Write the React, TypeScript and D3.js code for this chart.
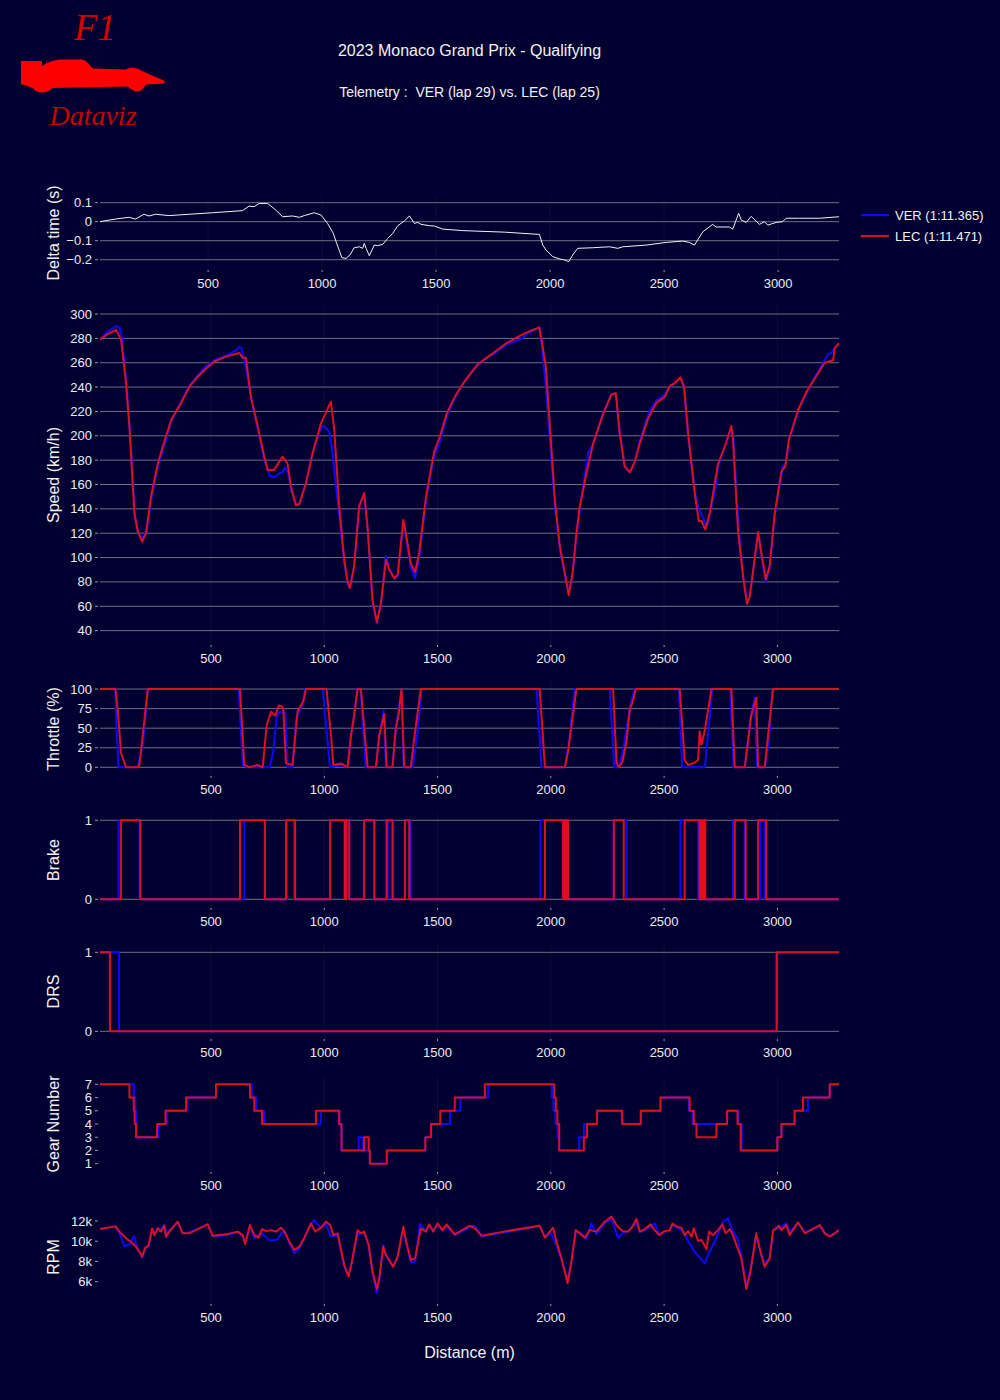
import React, { useEffect } from "react";
import * as d3 from "d3";

type Pt = [number, number];

const BG = "#010030";
const VER_COLOR = "#0a0aff";
const LEC_COLOR = "#dc0f23";
const FONT = "'Liberation Sans', Arial, sans-serif";

const DIST_TICKS = [500, 1000, 1500, 2000, 2500, 3000];

// delta time (s) between the two laps, by distance (m)
const deltaTime: Pt[] = [
  [26, 0], [94, 0.014], [153, 0.023], [182, 0.014], [219, 0.039], [241, 0.03], [270, 0.039], [329, 0.032],
  [417, 0.039], [519, 0.047], [651, 0.058], [680, 0.082], [702, 0.079], [724, 0.096], [761, 0.096],
  [797, 0.061], [827, 0.026], [870, 0.03], [900, 0.023], [922, 0.032], [966, 0.047], [995, 0.035],
  [1024, -0.009], [1049, -0.061], [1064, -0.114], [1087, -0.189], [1105, -0.193], [1122, -0.175],
  [1141, -0.137], [1163, -0.132], [1178, -0.14], [1185, -0.114], [1193, -0.14], [1207, -0.179],
  [1229, -0.123], [1244, -0.126], [1266, -0.119], [1288, -0.088], [1310, -0.061], [1332, -0.021],
  [1361, 0.004], [1383, 0.03], [1405, -0.009], [1420, -0.004], [1434, -0.014], [1471, -0.021],
  [1493, -0.023], [1529, -0.039], [1617, -0.047], [1800, -0.055], [1953, -0.067], [1968, -0.123],
  [1982, -0.149], [2012, -0.184], [2041, -0.196], [2060, -0.2], [2082, -0.21], [2099, -0.175],
  [2121, -0.14], [2187, -0.137], [2260, -0.132], [2297, -0.14], [2319, -0.132], [2421, -0.123],
  [2509, -0.109], [2582, -0.102], [2611, -0.109], [2633, -0.123], [2670, -0.053], [2713, -0.014],
  [2728, -0.028], [2787, -0.028], [2801, -0.039], [2827, 0.044], [2838, 0.009], [2860, -0.004],
  [2882, 0.028], [2918, -0.014], [2940, 0], [2955, -0.018], [2991, -0.004], [3020, 0], [3035, 0.018],
  [3094, 0.018], [3181, 0.018], [3267, 0.026],
];

const lecSpeed: Pt[] = [
  [10, 279], [40, 283], [81, 287], [103, 279], [125, 243], [140, 207], [162, 136], [176, 122], [196, 113],
  [213, 120], [235, 150], [265, 177], [287, 191], [324, 213], [368, 227], [404, 240], [434, 247], [471, 254],
  [515, 261], [566, 265], [625, 268], [640, 264], [654, 264], [676, 232], [713, 202], [735, 183], [750, 172],
  [779, 172], [816, 183], [838, 177], [853, 158], [875, 143], [890, 144], [919, 161], [949, 186], [985, 210],
  [1029, 228], [1044, 205], [1066, 142], [1088, 98], [1103, 80], [1113, 75], [1132, 93], [1154, 142],
  [1176, 153], [1191, 125], [1213, 65], [1232, 47], [1250, 62], [1272, 98], [1287, 90], [1309, 83],
  [1324, 86], [1349, 131], [1360, 120], [1382, 95], [1401, 88], [1419, 104], [1449, 150], [1485, 187],
  [1510, 199], [1540, 218], [1576, 232], [1613, 243], [1657, 254], [1679, 259], [1716, 264], [1746, 268],
  [1804, 276], [1863, 282], [1907, 286], [1949, 289], [1959, 279], [1978, 257], [1996, 208], [2018, 147],
  [2040, 109], [2062, 87], [2079, 69], [2096, 87], [2113, 120], [2128, 142], [2157, 169], [2187, 194],
  [2231, 218], [2268, 234], [2287, 235], [2304, 202], [2326, 175], [2349, 170], [2371, 179], [2393, 194],
  [2429, 214], [2466, 227], [2503, 232], [2525, 241], [2547, 243], [2572, 248], [2588, 240], [2606, 202],
  [2635, 153], [2653, 130], [2665, 130], [2682, 123], [2701, 136], [2738, 177], [2768, 191], [2797, 208],
  [2804, 197], [2826, 123], [2849, 84], [2866, 62], [2878, 68], [2915, 121], [2929, 104], [2949, 82],
  [2966, 93], [2988, 136], [3018, 171], [3035, 175], [3051, 197], [3091, 221], [3128, 236], [3165, 247],
  [3209, 260], [3246, 262], [3253, 272], [3272, 276],
];

const verSpeed: Pt[] = [
  [10, 279], [40, 285], [81, 290], [97, 289], [108, 278], [128, 240], [142, 205], [164, 135], [178, 121],
  [198, 116], [215, 121], [237, 148], [265, 175], [290, 190], [301, 196], [324, 212], [368, 228], [404, 241],
  [434, 248], [471, 256], [515, 262], [566, 266], [610, 270], [625, 273], [635, 272], [645, 262], [660, 250],
  [680, 228], [713, 200], [735, 180], [760, 167], [779, 166], [800, 169], [816, 170], [826, 174], [840, 170],
  [855, 155], [875, 143], [890, 144], [919, 161], [949, 186], [985, 207], [1000, 208], [1022, 203],
  [1035, 188], [1050, 161], [1066, 135], [1088, 96], [1103, 79], [1113, 75], [1132, 93], [1154, 142],
  [1176, 152], [1191, 124], [1213, 64], [1232, 46], [1250, 62], [1272, 101], [1287, 91], [1309, 83],
  [1324, 85], [1349, 128], [1360, 118], [1382, 92], [1401, 83], [1419, 100], [1449, 147], [1485, 184],
  [1510, 194], [1540, 216], [1576, 231], [1613, 243], [1657, 254], [1679, 258], [1716, 264], [1746, 267],
  [1804, 275], [1863, 279], [1907, 285], [1949, 289], [1959, 276], [1978, 240], [1996, 197], [2018, 142],
  [2040, 107], [2062, 86], [2079, 70], [2096, 86], [2113, 118], [2128, 140], [2165, 186], [2187, 193],
  [2231, 219], [2268, 234], [2287, 235], [2304, 203], [2326, 175], [2349, 170], [2371, 179], [2393, 196],
  [2437, 221], [2466, 229], [2503, 234], [2525, 240], [2547, 244], [2572, 248], [2588, 240], [2606, 200],
  [2635, 155], [2653, 140], [2672, 133], [2687, 125], [2701, 135], [2728, 158], [2738, 175], [2768, 191],
  [2797, 206], [2806, 198], [2824, 139], [2835, 110], [2849, 85], [2866, 63], [2878, 68], [2915, 120],
  [2929, 102], [2949, 80], [2966, 92], [2988, 134], [3025, 176], [3040, 178], [3051, 196], [3091, 220],
  [3128, 235], [3165, 248], [3209, 262], [3224, 267], [3238, 268], [3253, 272], [3272, 276],
];

const lecThrottle: Pt[] = [
  [10, 100], [78, 100], [88, 75], [103, 18], [125, 0], [176, 0], [184, 3], [221, 100], [628, 100], [647, 3],
  [669, 0], [706, 3], [728, 0], [746, 54], [765, 71], [784, 66], [799, 79], [812, 78], [819, 75], [831, 5],
  [860, 3], [882, 71], [907, 84], [919, 100], [1010, 100], [1030, 40], [1040, 3], [1074, 5], [1103, 0],
  [1118, 41], [1132, 67], [1147, 100], [1162, 100], [1191, 0], [1228, 0], [1243, 41], [1265, 68], [1275, 0],
  [1301, 0], [1316, 50], [1328, 67], [1341, 100], [1353, 0], [1382, 0], [1397, 37], [1426, 100], [1951, 100],
  [1974, 0], [2062, 0], [2076, 20], [2113, 100], [2275, 100], [2290, 5], [2301, 0], [2316, 7], [2334, 33],
  [2349, 75], [2360, 82], [2375, 100], [2569, 100], [2591, 9], [2606, 3], [2635, 6], [2650, 9], [2657, 46],
  [2665, 29], [2679, 46], [2709, 100], [2797, 100], [2812, 0], [2856, 0], [2885, 67], [2907, 89], [2915, 0],
  [2944, 0], [2959, 41], [2981, 100], [3272, 100],
];

const verThrottle: Pt[] = [
  [10, 100], [78, 100], [83, 50], [92, 0], [176, 0], [200, 30], [221, 100], [622, 100], [640, 3], [660, 0],
  [760, 0], [775, 20], [790, 65], [800, 70], [828, 70], [838, 0], [860, 0], [875, 60], [907, 84], [915, 100],
  [993, 100], [1025, 0], [1074, 3], [1103, 0], [1118, 41], [1132, 67], [1145, 100], [1160, 100], [1182, 0],
  [1228, 0], [1243, 41], [1262, 72], [1272, 0], [1301, 0], [1316, 50], [1341, 100], [1350, 0], [1390, 0],
  [1410, 40], [1430, 100], [1937, 100], [1959, 0], [2062, 0], [2080, 30], [2105, 100], [2260, 100],
  [2280, 0], [2301, 0], [2318, 20], [2340, 60], [2355, 85], [2370, 100], [2565, 100], [2580, 0], [2680, 0],
  [2700, 60], [2712, 100], [2792, 100], [2806, 0], [2856, 0], [2880, 60], [2900, 89], [2910, 0], [2944, 0],
  [2962, 30], [2978, 100], [3272, 100],
];

const lecBrake: Pt[] = [
  [10, 0], [103, 1], [188, 0], [628, 1], [738, 0], [831, 1], [871, 0], [1026, 1], [1090, 0], [1097, 1],
  [1110, 0], [1176, 1], [1221, 0], [1275, 1], [1301, 0], [1356, 1], [1375, 0], [1974, 1], [2054, 0],
  [2060, 1], [2066, 0], [2070, 1], [2076, 0], [2278, 1], [2322, 0], [2591, 1], [2657, 0], [2662, 1],
  [2668, 0], [2674, 1], [2682, 0], [2812, 1], [2860, 0], [2915, 1], [2951, 0], [3272, 0],
];

const verBrake: Pt[] = [
  [10, 0], [92, 1], [185, 0], [647, 1], [738, 0], [835, 1], [866, 0], [1026, 1], [1093, 0], [1100, 1],
  [1110, 0], [1176, 1], [1221, 0], [1280, 1], [1304, 0], [1356, 1], [1380, 0], [1954, 1], [2069, 0],
  [2278, 1], [2334, 0], [2572, 1], [2650, 0], [2655, 1], [2662, 0], [2804, 1], [2856, 0], [2925, 1],
  [2944, 0], [3272, 0],
];

const lecDrs: Pt[] = [[10, 1], [54, 0], [2997, 1], [3272, 1]];
const verDrs: Pt[] = [[10, 1], [94, 0], [2997, 1], [3272, 1]];

const lecGear: Pt[] = [
  [10, 7], [140, 6], [159, 5], [163, 4], [169, 3], [262, 4], [299, 5], [390, 6], [522, 7], [672, 6],
  [691, 5], [725, 4], [963, 5], [1066, 4], [1076, 2], [1176, 3], [1196, 2], [1201, 1], [1276, 2],
  [1446, 3], [1471, 4], [1512, 5], [1576, 6], [1709, 7], [2015, 6], [2022, 5], [2029, 4], [2037, 2],
  [2146, 3], [2160, 4], [2204, 5], [2315, 4], [2397, 5], [2484, 6], [2613, 5], [2631, 4], [2643, 3],
  [2731, 4], [2778, 5], [2824, 4], [2838, 2], [3000, 3], [3018, 4], [3076, 5], [3113, 6], [3231, 7],
  [3272, 7],
];

const verGear: Pt[] = [
  [10, 7], [159, 6], [166, 5], [170, 4], [172, 3], [268, 4], [305, 5], [396, 6], [522, 7], [680, 6],
  [700, 5], [735, 4], [985, 5], [1066, 4], [1076, 2], [1152, 3], [1170, 2], [1201, 1], [1276, 2],
  [1446, 3], [1471, 4], [1555, 5], [1601, 6], [1724, 7], [2005, 6], [2012, 5], [2020, 4], [2029, 3],
  [2037, 2], [2125, 3], [2146, 4], [2204, 5], [2315, 4], [2397, 5], [2484, 6], [2610, 5], [2625, 4],
  [2778, 5], [2828, 4], [2842, 2], [3000, 3], [3018, 4], [3076, 5], [3135, 6], [3231, 7], [3272, 7],
];

const lecRpm: Pt[] = [
  [10, 11200], [78, 11470], [96, 10950], [125, 10300], [154, 9800], [169, 9460], [184, 8970], [196, 8470],
  [210, 9360], [225, 9600], [240, 11270], [250, 10600], [265, 11270], [279, 10950], [294, 11540],
  [301, 10450], [316, 10950], [353, 11930], [375, 10780], [404, 10780], [449, 11270], [485, 11670],
  [507, 10550], [566, 10680], [618, 10950], [640, 10600], [651, 9700], [672, 11600], [691, 10600],
  [710, 10350], [725, 11200], [743, 11000], [765, 11100], [787, 10950], [809, 11340], [824, 11000],
  [846, 9960], [868, 9130], [890, 9460], [912, 10350], [941, 11770], [960, 10950], [985, 11340],
  [1007, 11930], [1026, 11600], [1040, 10600], [1059, 10780], [1088, 7650], [1107, 6500], [1122, 7980],
  [1147, 11100], [1162, 10780], [1176, 10950], [1196, 9630], [1213, 7000], [1232, 5270], [1243, 6330],
  [1260, 9460], [1272, 8640], [1287, 8140], [1304, 7480], [1324, 8470], [1349, 11440], [1360, 10120],
  [1382, 8140], [1401, 8300], [1426, 11270], [1449, 10950], [1463, 11670], [1481, 10950], [1500, 11770],
  [1522, 11100], [1540, 11670], [1576, 10680], [1643, 11540], [1665, 11270], [1694, 10550], [1804, 11000],
  [1951, 11540], [1974, 10350], [2010, 11340], [2025, 9960], [2047, 8300], [2074, 5830], [2091, 7980],
  [2110, 11100], [2128, 10780], [2150, 10350], [2172, 11100], [2201, 10950], [2238, 11930], [2268, 12430],
  [2290, 11600], [2316, 11000], [2341, 10950], [2360, 11440], [2378, 12200], [2393, 10950], [2415, 11200],
  [2440, 11670], [2459, 11100], [2478, 10600], [2503, 11000], [2525, 11100], [2537, 11740], [2557, 11440],
  [2576, 11340], [2591, 10600], [2606, 11000], [2621, 10450], [2631, 11270], [2650, 10020], [2665, 10120],
  [2687, 9230], [2699, 10950], [2716, 10600], [2738, 11100], [2757, 11670], [2772, 10780], [2790, 11200],
  [2804, 10600], [2819, 9630], [2841, 8300], [2863, 5270], [2881, 7000], [2907, 10780], [2925, 8970],
  [2944, 7480], [2966, 8300], [2981, 11100], [2996, 11270], [3007, 11540], [3018, 11100], [3040, 11600],
  [3054, 10600], [3091, 11870], [3121, 10780], [3187, 11600], [3209, 10780], [3231, 10450], [3253, 10780],
  [3272, 11100],
];

const verRpm: Pt[] = [
  [10, 11200], [78, 11470], [96, 10800], [118, 9500], [140, 9700], [160, 10500], [175, 9300], [196, 8400],
  [210, 9300], [225, 9500], [240, 11200], [250, 10700], [265, 11300], [279, 11100], [294, 11600],
  [305, 10700], [316, 11000], [353, 11900], [375, 10800], [404, 10900], [449, 11300], [485, 11700],
  [507, 10500], [566, 10600], [618, 10900], [640, 10500], [651, 9900], [672, 11500], [691, 10300],
  [710, 10600], [725, 10800], [757, 10100], [780, 10100], [794, 10200], [816, 10950], [830, 10700],
  [846, 9800], [868, 8800], [890, 9300], [912, 10300], [941, 11700], [956, 12100], [985, 11300],
  [1007, 11700], [1029, 10450], [1040, 10500], [1059, 10600], [1088, 7500], [1107, 6600], [1122, 8000],
  [1147, 10600], [1162, 10800], [1176, 10900], [1196, 9500], [1213, 6800], [1232, 4900], [1243, 6200],
  [1260, 9600], [1272, 8700], [1287, 8000], [1304, 7500], [1324, 8400], [1349, 11300], [1360, 10000],
  [1382, 7900], [1401, 8000], [1422, 11700], [1449, 11000], [1463, 11600], [1481, 11000], [1500, 11700],
  [1522, 11000], [1540, 11500], [1576, 10600], [1643, 11400], [1665, 11500], [1694, 10500], [1804, 10900],
  [1951, 11500], [1974, 10400], [2000, 10800], [2018, 9960], [2047, 8300], [2074, 6000], [2091, 8000],
  [2110, 11000], [2128, 10900], [2157, 10200], [2179, 11770], [2201, 10700], [2238, 11800], [2268, 12200],
  [2297, 10350], [2316, 10800], [2341, 11000], [2360, 11400], [2378, 11900], [2393, 10900], [2415, 11100],
  [2440, 11500], [2459, 11770], [2478, 10700], [2503, 10950], [2525, 11000], [2537, 11600], [2557, 11400],
  [2584, 10950], [2606, 10000], [2635, 8970], [2660, 8300], [2679, 7800], [2701, 8970], [2731, 10300],
  [2760, 11930], [2782, 12260], [2804, 10950], [2824, 10300], [2841, 8500], [2863, 5500], [2881, 7200],
  [2907, 10600], [2925, 9000], [2944, 7700], [2966, 8400], [2981, 11000], [2996, 11400], [3007, 11300],
  [3018, 11400], [3040, 11800], [3054, 10900], [3091, 11800], [3121, 10900], [3187, 11500], [3209, 10800],
  [3231, 10500], [3253, 10800], [3272, 11100],
];

const legendItems = [
  { name: "VER (1:11.365)", color: VER_COLOR },
  { name: "LEC (1:11.471)", color: LEC_COLOR },
];

const PLOT_LEFT = 100;
const PLOT_RIGHT = 839;

const xMain = d3.scaleLinear().domain([10, 3272]).range([PLOT_LEFT, PLOT_RIGHT]);
const xDelta = d3.scaleLinear().domain([26, 3267]).range([PLOT_LEFT, PLOT_RIGHT]);

const minus = (s: string) => s.replace("-", "\u2212");

interface Series {
  data: Pt[];
  color: string;
  width: number;
}

interface PanelCfg {
  id: string;
  label: string;
  top: number;
  bottom: number;
  domain: [number, number];
  ticks: number[];
  fmt: (v: number) => string;
  x: d3.ScaleLinear<number, number>;
  curve: d3.CurveFactory;
  grid: boolean;
  series: Series[];
}

const pair = (ver: Pt[], lec: Pt[]): Series[] => [
  { data: ver, color: VER_COLOR, width: 2 },
  { data: lec, color: LEC_COLOR, width: 2 },
];

const panels: PanelCfg[] = [
  {
    id: "delta", label: "Delta time (s)", top: 196, bottom: 270, domain: [-0.254, 0.135],
    ticks: [-0.2, -0.1, 0, 0.1], fmt: (v) => minus(String(+v.toFixed(1))), x: xDelta,
    curve: d3.curveLinear, grid: true, series: [{ data: deltaTime, color: "#f2f2f2", width: 1 }],
  },
  {
    id: "speed", label: "Speed (km/h)", top: 305, bottom: 645, domain: [28.2, 307.4],
    ticks: d3.range(40, 301, 20), fmt: (v) => String(v), x: xMain,
    curve: d3.curveLinear, grid: true, series: pair(verSpeed, lecSpeed),
  },
  {
    id: "throttle", label: "Throttle (%)", top: 682, bottom: 776, domain: [-11.1, 109],
    ticks: [0, 25, 50, 75, 100], fmt: (v) => String(v), x: xMain,
    curve: d3.curveLinear, grid: true, series: pair(verThrottle, lecThrottle),
  },
  {
    id: "brake", label: "Brake", top: 812, bottom: 908, domain: [-0.11, 1.105],
    ticks: [0, 1], fmt: (v) => String(v), x: xMain,
    curve: d3.curveStepAfter, grid: true, series: pair(verBrake, lecBrake),
  },
  {
    id: "drs", label: "DRS", top: 944, bottom: 1039, domain: [-0.097, 1.105],
    ticks: [0, 1], fmt: (v) => String(v), x: xMain,
    curve: d3.curveStepAfter, grid: true, series: pair(verDrs, lecDrs),
  },
  {
    id: "gear", label: "Gear Number", top: 1076, bottom: 1172, domain: [0.373, 7.63],
    ticks: [1, 2, 3, 4, 5, 6, 7], fmt: (v) => String(v), x: xMain,
    curve: d3.curveStepAfter, grid: false, series: pair(verGear, lecGear),
  },
  {
    id: "rpm", label: "RPM", top: 1210, bottom: 1304, domain: [3790, 13090],
    ticks: [6000, 8000, 10000, 12000], fmt: (v) => `${v / 1000}k`, x: xMain,
    curve: d3.curveLinear, grid: false, series: pair(verRpm, lecRpm),
  },
];

function Panel({ cfg }: { cfg: PanelCfg }) {
  const y = d3.scaleLinear().domain(cfg.domain).range([cfg.bottom, cfg.top]);
  const line = d3
    .line<Pt>()
    .x((d) => cfg.x(d[0]))
    .y((d) => y(d[1]))
    .curve(cfg.curve);
  const clipId = `clip-${cfg.id}`;
  const midY = (cfg.top + cfg.bottom) / 2;

  return (
    <g>
      <defs>
        <clipPath id={clipId}>
          <rect x={PLOT_LEFT} y={cfg.top - 3} width={PLOT_RIGHT - PLOT_LEFT} height={cfg.bottom - cfg.top + 6} />
        </clipPath>
      </defs>
      {/* faint vertical grid */}
      {DIST_TICKS.map((t) => (
        <line key={`vg${t}`} x1={cfg.x(t)} x2={cfg.x(t)} y1={cfg.top} y2={cfg.bottom}
          stroke="#ffffff" strokeOpacity={0.05} strokeWidth={1} />
      ))}
      {/* horizontal grid + y ticks */}
      {cfg.ticks.map((t) => (
        <g key={`yt${t}`}>
          {cfg.grid && (
            <line x1={PLOT_LEFT} x2={PLOT_RIGHT} y1={y(t)} y2={y(t)} stroke="#6f6f86" strokeWidth={1} />
          )}
          <line x1={95} x2={98} y1={y(t)} y2={y(t)} stroke="#9a9ab0" strokeWidth={1} />
          <text x={92} y={y(t)} dy="0.35em" textAnchor="end" fontSize={13} fill="#ececf2" fontFamily={FONT}>
            {cfg.fmt(t)}
          </text>
        </g>
      ))}
      {/* x ticks */}
      {DIST_TICKS.map((t) => (
        <g key={`xt${t}`}>
          <line x1={cfg.x(t)} x2={cfg.x(t)} y1={cfg.bottom} y2={cfg.bottom + 2} stroke="#9a9ab0" strokeWidth={1} />
          <text x={cfg.x(t)} y={cfg.bottom + 13} dy="0.35em" textAnchor="middle" fontSize={13} fill="#ececf2"
            fontFamily={FONT}>
            {t}
          </text>
        </g>
      ))}
      <text transform={`translate(53,${midY}) rotate(-90)`} textAnchor="middle" dy="0.35em" fontSize={16}
        fill="#f2f2f2" fontFamily={FONT}>
        {cfg.label}
      </text>
      <g clipPath={`url(#${clipId})`}>
        {cfg.series.map((s, i) => (
          <path key={i} d={line(s.data) || ""} fill="none" stroke={s.color} strokeWidth={s.width}
            strokeLinejoin="round" />
        ))}
      </g>
    </g>
  );
}

function Logo() {
  return (
    <g>
      <text x={95} y={40} textAnchor="middle" fontSize={38} fontStyle="italic" fill="#d40000"
        fontFamily="'Liberation Serif', 'DejaVu Serif', serif">
        F1
      </text>
      <g fill="#ff0000">
        <path d="M21,61 L42,61 L42,66 C48,62 54,60 60,59.5 L82,59.5 C87,60.5 89,65 93,68.5 L126,69.5
          C130,67.5 137,67.5 141,70.5 L151,75 L165,81 L164,83.5 L146,84.5 C143,91 131,92 128,86.5
          L52,88 C50,93.5 36,94 33,88 L21,84 Z" />
        <circle cx={42} cy={85} r={7.5} />
        <circle cx={137} cy={84} r={7.5} />
      </g>
      <text x={93} y={125} textAnchor="middle" fontSize={28} fontStyle="italic" fill="#c80000"
        fontFamily="'Liberation Serif', 'DejaVu Serif', serif">
        Dataviz
      </text>
    </g>
  );
}

export default function App() {
  useEffect(() => {
    document.body.style.margin = "0";
    document.body.style.background = BG;
  }, []);

  const centerX = (PLOT_LEFT + PLOT_RIGHT) / 2;

  return (
    <div style={{ position: "absolute", left: 0, top: 0, width: 1000, height: 1400 }}>
      <svg width={1000} height={1400} style={{ display: "block", background: BG }}>
        <rect width={1000} height={1400} fill={BG} />
        <Logo />
        <text x={centerX} y={50} dy="0.35em" textAnchor="middle" fontSize={16} fill="#f2f2f2" fontFamily={FONT}>
          2023 Monaco Grand Prix - Qualifying
        </text>
        <text x={centerX} y={92} dy="0.35em" textAnchor="middle" fontSize={14} fill="#f2f2f2" fontFamily={FONT}
          style={{ whiteSpace: "pre" }}>
          {"Telemetry :  VER (lap 29) vs. LEC (lap 25)"}
        </text>
        {panels.map((p) => (
          <Panel key={p.id} cfg={p} />
        ))}
        {legendItems.map((it, i) => (
          <g key={it.name} transform={`translate(861,${215 + i * 21})`}>
            <line x1={0} x2={28} y1={0} y2={0} stroke={it.color} strokeWidth={2} />
            <text x={34} y={0} dy="0.35em" fontSize={13} fill="#f2f2f2" fontFamily={FONT}>
              {it.name}
            </text>
          </g>
        ))}
        <text x={centerX} y={1352} dy="0.35em" textAnchor="middle" fontSize={16} fill="#f2f2f2" fontFamily={FONT}>
          Distance (m)
        </text>
      </svg>
    </div>
  );
}
